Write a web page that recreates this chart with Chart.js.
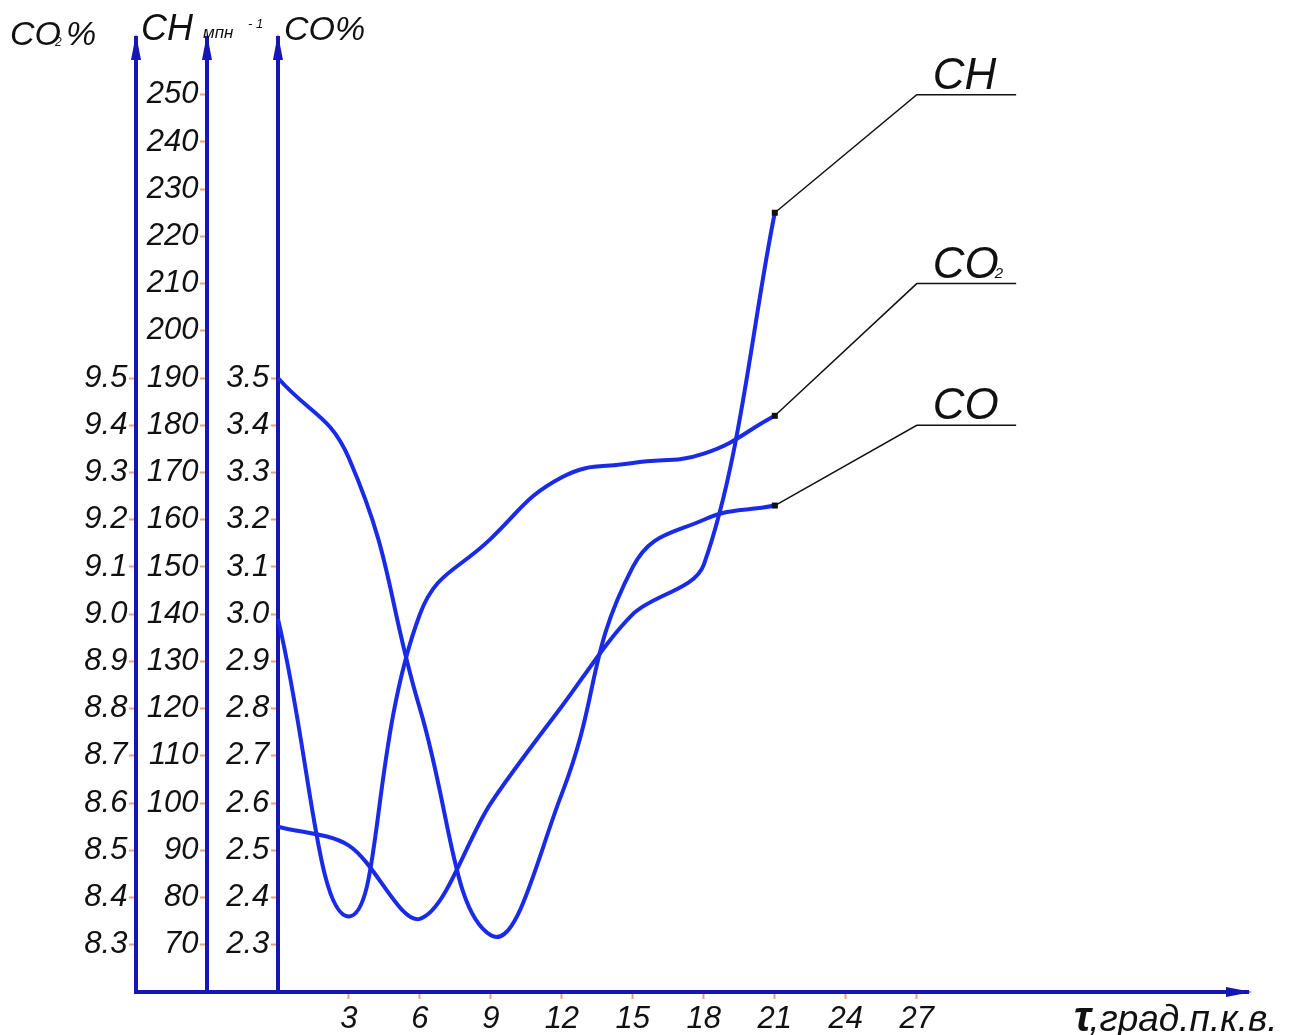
<!DOCTYPE html>
<html><head><meta charset="utf-8">
<script src="https://cdn.jsdelivr.net/npm/chart.js@4.4.1/dist/chart.umd.min.js"></script>
<style>html,body{margin:0;padding:0;background:#fff;}#wrap{width:1293px;height:1035px;}</style>
</head><body><div id="wrap"><canvas id="c" width="1293" height="1035"></canvas></div>
<script>
// ---- data ----
const angles = [0, 3, 6, 9, 12, 15, 18, 21];
const chValues = [95, 91, 75.5, 100, 120.5, 140, 150.5, 225];
const co2Values = [8.99, 8.36, 9.0, 9.16, 9.29, 9.32, 9.34, 9.42];
const coValues = [3.5, 3.33, 2.8, 2.32, 2.62, 3.1, 3.2, 3.23];
const xTickLabels = [3, 6, 9, 12, 15, 18, 21, 24, 27];
const chTickLabels = [70, 80, 90, 100, 110, 120, 130, 140, 150, 160, 170, 180, 190, 200, 210, 220, 230, 240, 250];
const co2TickLabels = ['8.3','8.4','8.5','8.6','8.7','8.8','8.9','9.0','9.1','9.2','9.3','9.4','9.5'];
const coTickLabels = ['2.3','2.4','2.5','2.6','2.7','2.8','2.9','3.0','3.1','3.2','3.3','3.4','3.5'];
const seriesNames = ['CH', 'CO2', 'CO'];

const AXIS = '#1616b4';
const CURVE = '#1a2be6';
const TICKC = 'rgba(240,150,100,0.9)';
const FONT = 'Liberation Sans';

function pts(vals) { return angles.map((x, i) => ({ x: x, y: vals[i] })); }

function yAxis(min, max, xpos, labels) {
  return {
    type: 'linear', axis: 'y', min: min, max: max,
    position: { x: xpos },
    border: { display: true, color: AXIS, width: 4 },
    grid: { drawOnChartArea: false, drawTicks: true, tickLength: 5, tickWidth: 2, tickColor: TICKC, color: TICKC },
    afterBuildTicks: (s) => { s.ticks = labels.map(l => ({ value: parseFloat(l) })); },
    ticks: {
      autoSkip: false, padding: 2, color: '#111',
      font: { family: FONT, size: 31, style: 'italic' },
      callback: (v, i) => String(labels[i]) + ' '
    }
  };
}

const deco = {
  id: 'deco',
  afterDraw(chart) {
    const ctx = chart.ctx;
    const xs = chart.scales.x, ych = chart.scales.yCH;
    const area = chart.chartArea;
    ctx.save();
    // arrowheads on vertical axes
    ctx.fillStyle = AXIS;
    [-6, -3, 0].forEach(v => {
      const px = xs.getPixelForValue(v);
      ctx.beginPath();
      ctx.moveTo(px, area.top - 4);
      ctx.lineTo(px - 5, area.top + 22);
      ctx.lineTo(px + 5, area.top + 22);
      ctx.closePath(); ctx.fill();
    });
    // arrow on horizontal axis
    const by = ych.getPixelForValue(60);
    ctx.beginPath();
    ctx.moveTo(area.right + 4, by);
    ctx.lineTo(area.right - 22, by - 5);
    ctx.lineTo(area.right - 22, by + 5);
    ctx.closePath(); ctx.fill();

    // callouts
    const levels = [250, 210, 180];
    chart.data.datasets.forEach((ds, i) => {
      const meta = chart.getDatasetMeta(i);
      const pt = meta.data[meta.data.length - 1];
      const lx = xs.getPixelForValue(27), rx = xs.getPixelForValue(31.2);
      const ly = ych.getPixelForValue(levels[i]);
      ctx.strokeStyle = '#111'; ctx.lineWidth = 1.5;
      ctx.beginPath(); ctx.moveTo(pt.x, pt.y); ctx.lineTo(lx, ly); ctx.lineTo(rx, ly); ctx.stroke();
      ctx.fillStyle = '#111';
      ctx.fillRect(pt.x - 3, pt.y - 3, 6, 6);
      ctx.font = 'italic 44px "' + FONT + '"';
      ctx.textBaseline = 'alphabetic'; ctx.textAlign = 'left';
      const name = seriesNames[i];
      if (name === 'CO2') {
        ctx.fillText('CO', lx + 16, ly - 6);
        const w = ctx.measureText('CO').width;
        ctx.font = 'italic 15px "' + FONT + '"';
        ctx.fillText('2', lx + 16 + w - 4, ly - 6);
      } else {
        ctx.fillText(name, lx + 16, ly - 6);
      }
    });

    // axis titles (top)
    ctx.fillStyle = '#111';
    ctx.textAlign = 'left'; ctx.textBaseline = 'alphabetic';
    ctx.font = 'italic 34px "' + FONT + '"';
    ctx.fillText('CO', 10, 45);
    ctx.font = 'italic 12px "' + FONT + '"';
    ctx.fillText('2', 55, 46);
    ctx.font = 'italic 34px "' + FONT + '"';
    ctx.fillText('%', 66, 45);

    ctx.font = 'italic 36px "' + FONT + '"';
    ctx.fillText('CH', 141, 40);
    ctx.font = 'italic 17px "' + FONT + '"';
    ctx.fillText('мпн', 203, 38);
    ctx.font = 'italic 13px "' + FONT + '"';
    ctx.fillText('- 1', 248, 28);
    ctx.font = 'italic 34px "' + FONT + '"';
    ctx.fillText('CO%', 284, 40);

    // x-axis title
    ctx.font = 'italic bold 42px "' + FONT + '"';
    ctx.fillText('τ', 1074, 1031);
    const tw = ctx.measureText('τ').width;
    ctx.font = 'italic 37px "' + FONT + '"';
    ctx.fillText(',град.п.к.в.', 1074 + tw - 2, 1031);
    ctx.restore();
  }
};

new Chart(document.getElementById('c'), {
  type: 'line',
  data: {
    datasets: [
      { label: 'CH', data: pts(chValues), yAxisID: 'yCH', tension: 0.32 },
      { label: 'CO2', data: pts(co2Values), yAxisID: 'yCO2', tension: 0.45 },
      { label: 'CO', data: pts(coValues), yAxisID: 'yCO', tension: 0.45 }
    ].map(d => Object.assign(d, {
      borderColor: CURVE, borderWidth: 4, pointRadius: 0, fill: false
    }))
  },
  options: {
    responsive: false, animation: false, devicePixelRatio: 1,
    layout: { padding: { left: 136, right: 45, top: 38, bottom: 43 } },
    plugins: { legend: { display: false }, tooltip: { enabled: false } },
    scales: {
      x: {
        type: 'linear', min: -6, max: 41,
        position: { yCH: 60 },
        border: { display: true, color: AXIS, width: 4 },
        grid: { drawOnChartArea: false, drawTicks: true, tickLength: 5, tickWidth: 2, tickColor: TICKC, color: TICKC },
        afterBuildTicks: (s) => { s.ticks = xTickLabels.map(v => ({ value: v })); },
        ticks: {
          autoSkip: false, maxRotation: 0, padding: 4, color: '#111',
          font: { family: FONT, size: 31, style: 'italic' }
        }
      },
      yCO2: yAxis(8.2, 10.22, -6, co2TickLabels),
      yCH: yAxis(60, 262, -3, chTickLabels),
      yCO: yAxis(2.2, 4.22, 0, coTickLabels)
    }
  },
  plugins: [deco]
});
</script>
</body></html>
